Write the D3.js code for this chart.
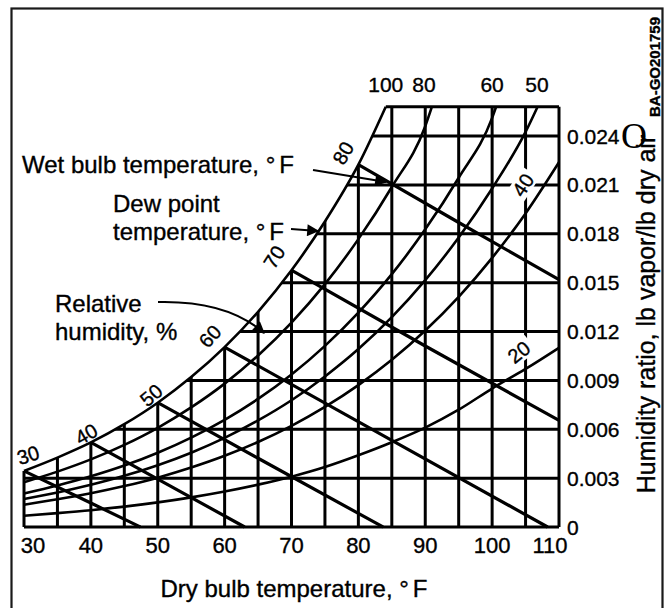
<!DOCTYPE html>
<html>
<head>
<meta charset="utf-8">
<script src="https://cdn.jsdelivr.net/npm/d3@7"></script>
<style>
  body { margin: 0; background: #fff; }
  svg text { font-family: "Liberation Sans", Arial, sans-serif; fill: #000; stroke: #000; stroke-width: 0.35px; }
</style>
</head>
<body>
<div id="chart"></div>
<script>
// Psychrometric chart: dry bulb (°F) vs humidity ratio (lb/lb)

const dryBulbTicks = [30, 40, 50, 60, 70, 80, 90, 100, 110];
const dryBulbGrid = [30, 35, 40, 45, 50, 55, 60, 65, 70, 75, 80, 85, 90, 95, 100, 105, 110];
const humidityTicks = [0, 0.003, 0.006, 0.009, 0.012, 0.015, 0.018, 0.021, 0.024];
const humidityLabels = ['0', '0.003', '0.006', '0.009', '0.012', '0.015', '0.018', '0.021', '0.024'];
const humidityTop = 0.0258;

// relative humidity curves [dry bulb, humidity ratio]
const rh100 = [[30, 0.00344], [35, 0.00426], [40, 0.00519], [45, 0.00631], [50, 0.00763], [55, 0.00920],
  [60, 0.01104], [65, 0.01321], [70, 0.01576], [75, 0.01875], [80, 0.02224], [84.1, 0.0258]];
const rh80 = [[30, 0.00275], [35, 0.00340], [40, 0.00415], [45, 0.00504], [50, 0.00609], [55, 0.00734],
  [60, 0.00880], [65, 0.01053], [70, 0.01255], [75, 0.01491], [80, 0.01767], [85, 0.02087], [90, 0.02460], [91, 0.0258]];
const rh60 = [[30, 0.00206], [35, 0.00255], [40, 0.00311], [45, 0.00377], [50, 0.00456], [55, 0.00549],
  [60, 0.00658], [65, 0.00786], [70, 0.00936], [75, 0.01112], [80, 0.01316], [85, 0.01552], [90, 0.01827],
  [95, 0.02144], [100, 0.02511], [100.6, 0.0258]];
const rh50 = [[30, 0.00172], [35, 0.00212], [40, 0.00259], [45, 0.00314], [50, 0.00379], [55, 0.00456],
  [60, 0.00547], [65, 0.00654], [70, 0.00778], [75, 0.00924], [80, 0.01092], [85, 0.01288], [90, 0.01515],
  [95, 0.01777], [100, 0.02078], [105, 0.02425], [106.8, 0.0258]];
const rh40 = [[30, 0.00137], [35, 0.00170], [40, 0.00207], [45, 0.00251], [50, 0.00303], [55, 0.00365],
  [60, 0.00437], [65, 0.00522], [70, 0.00621], [75, 0.00737], [80, 0.00871], [85, 0.01026], [90, 0.01206],
  [95, 0.01413], [100, 0.01652], [105, 0.01925], [110, 0.02239]];
const rh20 = [[30, 0.00069], [35, 0.00085], [40, 0.00103], [45, 0.00125], [50, 0.00151], [55, 0.00182],
  [60, 0.00218], [65, 0.00260], [70, 0.00309], [75, 0.00368], [80, 0.00440], [85, 0.00520], [90, 0.00610],
  [95, 0.00720], [100, 0.00850], [105, 0.00970], [110, 0.01100]];

// wet bulb lines
const wb30 = [[30, 0.00344], [40, 0.00147], [47.4, 0]];
const wb40 = [[40, 0.00519], [50, 0.00294], [63.0, 0]];
const wb50 = [[50, 0.00763], [65, 0.00422], [83.7, 0]];
const wb60 = [[60, 0.01104], [85, 0.00532], [108.3, 0]];
const wb70 = [[70, 0.01576], [90, 0.01111], [110, 0.00654]];
const wb80 = [[80, 0.02224], [95, 0.01869], [110, 0.01518]];

const satLabels = ['30', '40', '50', '60', '70', '80'];
const topRhLabels = ['100', '80', '60', '50'];

const width = 668, height = 608;
const svg = d3.select('#chart').append('svg')
  .attr('width', width).attr('height', height);

// outer frame
svg.append('rect')
  .attr('x', 11.5).attr('y', 8.5)
  .attr('width', 651).attr('height', 620)
  .attr('fill', 'none').attr('stroke', '#1a1a1a').attr('stroke-width', 2.2);

const x = d3.scaleLinear().domain([30, 110]).range([24, 559]);
const y = d3.scaleLinear().domain([0, 0.024]).range([527, 136]);

const line = d3.line().x(d => x(d[0])).y(d => y(d[1])).curve(d3.curveMonotoneX);

// clip everything to the region below the saturation curve
const satEnd = rh100[rh100.length - 1];
const clipD = line(rh100) +
  `L${x(satEnd[0])},${y(humidityTop) - 2}L${x(110) + 2},${y(humidityTop) - 2}` +
  `L${x(110) + 2},${y(0) + 2}L${x(30) - 2},${y(0) + 2}L${x(30) - 2},${y(rh100[0][1])}Z`;
svg.append('clipPath').attr('id', 'plot-clip')
  .append('path').attr('d', clipD);

const plot = svg.append('g').attr('clip-path', 'url(#plot-clip)');

// grid
plot.selectAll('.vgrid')
  .data(dryBulbGrid)
  .enter().append('line')
  .attr('x1', d => x(d)).attr('x2', d => x(d))
  .attr('y1', y(0)).attr('y2', y(humidityTop))
  .attr('stroke', '#000').attr('stroke-width', 3);

plot.selectAll('.hgrid')
  .data(humidityTicks.concat([humidityTop]))
  .enter().append('line')
  .attr('x1', x(30)).attr('x2', x(110))
  .attr('y1', d => y(d)).attr('y2', d => y(d))
  .attr('stroke', '#000').attr('stroke-width', 3);

// relative humidity curves
plot.selectAll('.rh')
  .data([rh80, rh60, rh50, rh40, rh20])
  .enter().append('path')
  .attr('d', line)
  .attr('fill', 'none').attr('stroke', '#000').attr('stroke-width', 2.6);

// wet bulb lines
plot.selectAll('.wb')
  .data([wb30, wb40, wb50, wb60, wb70, wb80])
  .enter().append('path')
  .attr('d', line)
  .attr('fill', 'none').attr('stroke', '#000').attr('stroke-width', 3.2);

// saturation curve
svg.append('path')
  .attr('d', line(rh100))
  .attr('fill', 'none').attr('stroke', '#000').attr('stroke-width', 2.6);

// labels along curves
const curveLabels = [
  { text: satLabels[0], t: 30.6, w: 0.00442, rot: -18 },
  { text: satLabels[1], t: 39.3, w: 0.00571, rot: -30 },
  { text: satLabels[2], t: 49.0, w: 0.00810, rot: -40 },
  { text: satLabels[3], t: 57.8, w: 0.01172, rot: -48 },
  { text: satLabels[4], t: 67.4, w: 0.01657, rot: -58 },
  { text: satLabels[5], t: 77.7, w: 0.02296, rot: -60 },
  { text: '40', t: 104.6, w: 0.0210, rot: -57, knock: true },
  { text: '20', t: 104.0, w: 0.01074, rot: -38, knock: true }
];

const cl = svg.selectAll('.curve-label')
  .data(curveLabels)
  .enter().append('g')
  .attr('transform', d => `translate(${x(d.t)},${y(d.w)}) rotate(${d.rot})`);

cl.filter(d => d.knock).append('rect')
  .attr('x', -15).attr('y', -10).attr('width', 30).attr('height', 20)
  .attr('fill', '#fff');

cl.append('text')
  .attr('text-anchor', 'middle')
  .attr('dy', '0.36em')
  .style('font-size', '20px')
  .text(d => d.text);

// top RH labels
const topLabelT = [84.1, 89.8, 100, 106.7];
svg.selectAll('.top-label')
  .data(topRhLabels)
  .enter().append('text')
  .attr('x', (d, i) => x(topLabelT[i]))
  .attr('y', 92)
  .attr('text-anchor', 'middle')
  .style('font-size', '21px')
  .text(d => d);

// x tick labels
svg.selectAll('.xtick')
  .data(dryBulbTicks)
  .enter().append('text')
  .attr('x', d => x(d) + (d === 30 ? 9 : d === 110 ? -9 : 0))
  .attr('y', 553)
  .attr('text-anchor', 'middle')
  .style('font-size', '22px')
  .text(d => d);

// y tick labels
svg.selectAll('.ytick')
  .data(humidityTicks)
  .enter().append('text')
  .attr('x', 567)
  .attr('y', d => y(d))
  .attr('dy', '0.36em')
  .style('font-size', '21px')
  .text((d, i) => humidityLabels[i]);

// axis titles
const xTitle = svg.append('text')
  .attr('x', 294).attr('y', 597)
  .attr('text-anchor', 'middle')
  .style('font-size', '24px')
  .text('Dry bulb temperature, °');
xTitle.append('tspan').attr('dx', 4).text('F');

svg.append('text')
  .attr('transform', 'translate(655,314) rotate(-90)')
  .attr('text-anchor', 'middle')
  .style('font-size', '25px')
  .text('Humidity ratio, lb vapor/lb dry air');

svg.append('text')
  .attr('transform', 'translate(660,67) rotate(-90)')
  .attr('text-anchor', 'middle')
  .style('font-size', '15px')
  .style('font-weight', 'bold')
  .text('BA-GO201759');

svg.append('text')
  .attr('x', 621).attr('y', 148)
  .style('font-family', '"Liberation Serif", "Times New Roman", serif')
  .style('font-size', '36px')
  .style('stroke-width', 0)
  .text('O');

// annotations
const wetText = svg.append('text')
  .attr('x', 22).attr('y', 173)
  .style('font-size', '24px')
  .text('Wet bulb temperature, °');
wetText.append('tspan').attr('dx', 4).text('F');

svg.append('text')
  .attr('x', 113).attr('y', 212)
  .style('font-size', '24px')
  .text('Dew point');
const dewText = svg.append('text')
  .attr('x', 113).attr('y', 240)
  .style('font-size', '24px')
  .text('temperature, °');
dewText.append('tspan').attr('dx', 4).text('F');

svg.append('text')
  .attr('x', 55).attr('y', 312)
  .style('font-size', '24px')
  .text('Relative');
svg.append('text')
  .attr('x', 55).attr('y', 340)
  .style('font-size', '24px')
  .text('humidity, %');

// arrow heads
const defs = svg.append('defs');
defs.append('marker')
  .attr('id', 'arrow')
  .attr('viewBox', '0 0 10 10')
  .attr('refX', 9).attr('refY', 5)
  .attr('markerUnits', 'userSpaceOnUse')
  .attr('markerWidth', 18).attr('markerHeight', 12)
  .attr('orient', 'auto')
  .append('path').attr('d', 'M0,0L10,5L0,10Z').attr('fill', '#000');

svg.append('path')
  .attr('d', 'M313,170 L386,182')
  .attr('fill', 'none').attr('stroke', '#000').attr('stroke-width', 2)
  .attr('marker-end', 'url(#arrow)');

svg.append('path')
  .attr('d', 'M291,229 L318,231')
  .attr('fill', 'none').attr('stroke', '#000').attr('stroke-width', 2)
  .attr('marker-end', 'url(#arrow)');

svg.append('path')
  .attr('d', 'M158,302 C200,301 238,310 264,333')
  .attr('fill', 'none').attr('stroke', '#000').attr('stroke-width', 2)
  .attr('marker-end', 'url(#arrow)');
</script>
</body>
</html>
